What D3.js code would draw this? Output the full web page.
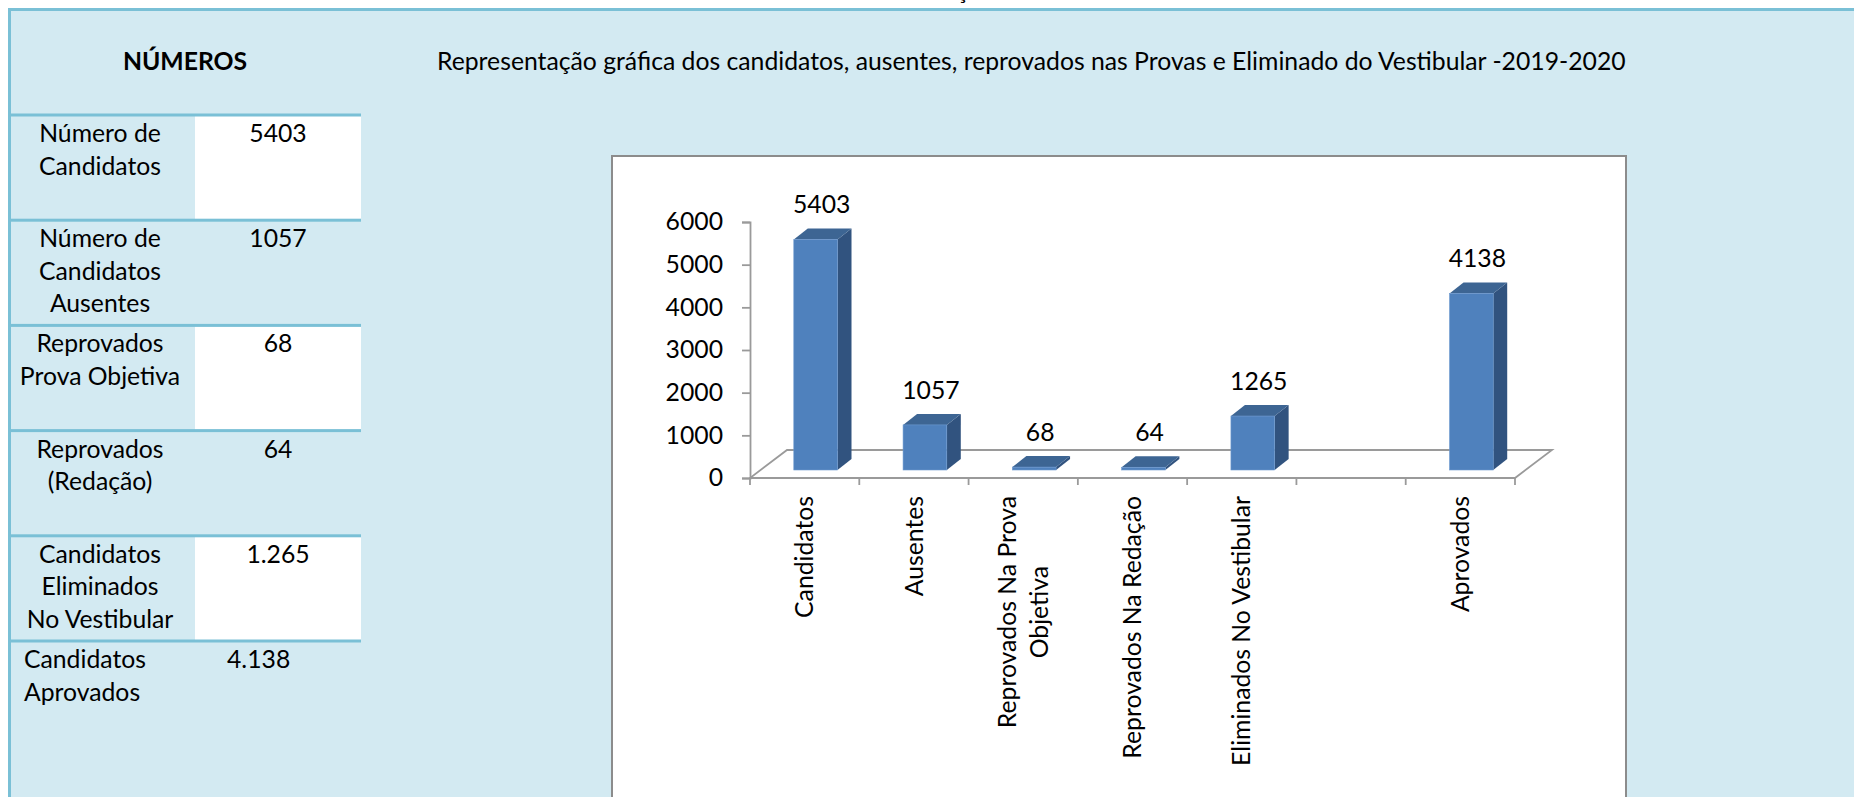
<!DOCTYPE html>
<html>
<head>
<meta charset="utf-8">
<script src="https://cdn.jsdelivr.net/npm/d3@7"></script>
<style>
  html, body { margin: 0; padding: 0; background: #fff; overflow: hidden; }
  svg { display: block; font-family: Lato, "Open Sans", sans-serif; }
</style>
</head>
<body>
<svg id="page" width="1854" height="797"></svg>
<script>
// ---- data ----
const tableHeader = "NÚMEROS";
const tableLabels = [
    ["Número de", "Candidatos"],
    ["Número de", "Candidatos", "Ausentes"],
    ["Reprovados", "Prova Objetiva"],
    ["Reprovados", "(Redação)"],
    ["Candidatos", "Eliminados", "No Vestibular"],
    ["Candidatos", "Aprovados"]
];
const tableValues = ["5403", "1057", "68", "64", "1.265", "4.138"];
const tableWhite = [true, false, true, false, true, false];

const chartTitle = "Representação gráfica dos candidatos, ausentes, reprovados nas Provas e Eliminado do Vestibular -2019-2020";
const categories = [
    ["Candidatos"],
    ["Ausentes"],
    ["Reprovados Na Prova", "Objetiva"],
    ["Reprovados Na Redação"],
    ["Eliminados No Vestibular"],
    [],
    ["Aprovados"]
];
const values = [5403, 1057, 68, 64, 1265, null, 4138];
const yTicks = [0, 1000, 2000, 3000, 4000, 5000, 6000];

// ---- colours ----
const paleBlue = "#D3EAF2";
const rule = "#7AC0D6";
const axisGrey = "#9A9A9A";
const barFront = "#4F81BD";
const barSide = "#31537F";
const barTop = "#3D6593";

const svg = d3.select("#page");

// fit the font so the long title has the width it has in the picture
const probe = svg.append("text").attr("font-size", 26).text(chartTitle);
const fs = 26 * 1189 / probe.node().getComputedTextLength();
probe.remove();

// page background and the outer cell frame
svg.append("rect").attr("width", 1854).attr("height", 797).attr("fill", "#fff");
svg.append("rect").attr("x", 8).attr("y", 8).attr("width", 1846).attr("height", 789).attr("fill", paleBlue);
svg.append("rect").attr("x", 8).attr("y", 8).attr("width", 1846).attr("height", 3).attr("fill", rule);
svg.append("rect").attr("x", 8).attr("y", 8).attr("width", 3).attr("height", 789).attr("fill", rule);

// text cut by the top of the page (only its cedilla shows, as in the picture)
svg.append("text").attr("x", 956).attr("y", -1).attr("font-size", fs).text("ção");

// ---- left table ----
const rowH = 105.2;
const rowTop = i => 115 + i * rowH;

svg.append("g").selectAll("rect")
    .data(tableWhite.map((w, i) => ({ w, i })).filter(d => d.w))
    .join("rect")
    .attr("x", 195).attr("y", d => rowTop(d.i))
    .attr("width", 166).attr("height", rowH)
    .attr("fill", "#fff");

svg.append("g").selectAll("rect")
    .data(tableLabels)
    .join("rect")
    .attr("x", 11).attr("y", (d, i) => rowTop(i) - 1.5)
    .attr("width", 350).attr("height", 3)
    .attr("fill", rule);

svg.append("text")
    .attr("x", 185).attr("y", 70)
    .attr("text-anchor", "middle")
    .attr("font-size", fs).attr("font-weight", "bold")
    .text(tableHeader);

const rows = svg.append("g").selectAll("g")
    .data(tableLabels)
    .join("g");

rows.each(function (lines, i) {
    const g = d3.select(this);
    const last = i === tableLabels.length - 1;
    g.selectAll("text.lbl")
        .data(lines)
        .join("text")
        .attr("class", "lbl")
        .attr("x", last ? 24 : 100)
        .attr("y", (d, j) => rowTop(i) + 27 + j * 32.5)
        .attr("text-anchor", last ? "start" : "middle")
        .attr("font-size", fs)
        .text(d => d);
    g.append("text")
        .attr("x", last ? 227 : 278)
        .attr("y", rowTop(i) + 27)
        .attr("text-anchor", last ? "start" : "middle")
        .attr("font-size", fs)
        .text(tableValues[i]);
});

svg.append("text")
    .attr("x", 437).attr("y", 70)
    .attr("font-size", fs)
    .text(chartTitle);

// ---- chart ----
svg.append("rect")
    .attr("x", 612).attr("y", 156)
    .attr("width", 1014).attr("height", 700)
    .attr("fill", "#fff")
    .attr("stroke", "#8C8C8C").attr("stroke-width", 2);

const x = d3.scaleBand().domain(d3.range(categories.length)).range([750, 1515]);
const y = d3.scaleLinear().domain([0, 6000]).range([478, 222]);

const floorD = [37, -28];   // depth of the floor
const barOff = [11, -8];    // where the bars start inside the depth
const barD = [14, -11];     // depth of a bar
const barW = x.bandwidth() * 0.4;

const chart = svg.append("g");

// floor outline
const fx0 = x.range()[0], fx1 = x.range()[1], fy = y(0);
chart.append("path")
    .attr("d", `M${fx0},${fy}L${fx1},${fy}L${fx1 + floorD[0]},${fy + floorD[1]}L${fx0 + floorD[0]},${fy + floorD[1]}Z`)
    .attr("fill", "none")
    .attr("stroke", axisGrey).attr("stroke-width", 1.8);

// vertical axis
const yAxis = chart.append("g")
    .attr("transform", `translate(${fx0},0)`)
    .call(d3.axisLeft(y).tickValues(yTicks).tickSize(8).tickPadding(19).tickFormat(d3.format("d")));
yAxis.select(".domain").attr("stroke", axisGrey).attr("stroke-width", 1.8);
yAxis.selectAll(".tick line").attr("stroke", axisGrey).attr("stroke-width", 1.8);
yAxis.selectAll(".tick text")
    .attr("font-family", "Lato, 'Open Sans', sans-serif")
    .attr("font-size", fs).attr("fill", "#000");

// category ticks below the front edge
chart.append("g").selectAll("line")
    .data(d3.range(categories.length + 1))
    .join("line")
    .attr("x1", i => fx0 + i * x.step()).attr("x2", i => fx0 + i * x.step())
    .attr("y1", fy).attr("y2", fy + 7)
    .attr("stroke", axisGrey).attr("stroke-width", 1.8);

// bars
const bars = values.map((v, i) => ({ v, i })).filter(d => d.v !== null).map(d => {
    const xf = x(d.i) + (x.bandwidth() - barW) / 2 + barOff[0];
    return { ...d, xf, xr: xf + barW, yt: y(d.v) + barOff[1], yb: y(0) + barOff[1] };
});

const barG = chart.append("g").selectAll("g").data(bars).join("g");
barG.append("path")
    .attr("d", d => `M${d.xr},${d.yt}L${d.xr + barD[0]},${d.yt + barD[1]}L${d.xr + barD[0]},${d.yb + barD[1]}L${d.xr},${d.yb}Z`)
    .attr("fill", barSide);
barG.append("path")
    .attr("d", d => `M${d.xf},${d.yt}L${d.xr},${d.yt}L${d.xr + barD[0]},${d.yt + barD[1]}L${d.xf + barD[0]},${d.yt + barD[1]}Z`)
    .attr("fill", barTop);
barG.append("rect")
    .attr("x", d => d.xf).attr("y", d => d.yt)
    .attr("width", barW).attr("height", d => Math.max(d.yb - d.yt, 1))
    .attr("fill", barFront)
    .attr("stroke", "#6E9AD0").attr("stroke-width", 0.6);

// data labels
chart.append("g").selectAll("text")
    .data(bars)
    .join("text")
    .attr("x", d => x(d.i) + x.bandwidth() / 2 + 17)
    .attr("y", d => d.yt - 35)
    .attr("dy", "0.35em")
    .attr("text-anchor", "middle")
    .attr("font-size", fs)
    .text(d => d.v);

// rotated category labels
const catG = chart.append("g").selectAll("g")
    .data(categories.map((lines, i) => ({ lines, i })))
    .join("g");

catG.each(function (d) {
    const g = d3.select(this);
    const n = d.lines.length;
    const texts = g.selectAll("text")
        .data(d.lines)
        .join("text")
        .attr("text-anchor", "middle")
        .attr("dy", "0.35em")
        .attr("font-size", fs)
        .text(t => t);
    let maxLen = 0;
    texts.each(function () { maxLen = Math.max(maxLen, this.getComputedTextLength()); });
    const cy = 496 + maxLen / 2;
    texts.attr("transform", (t, j) =>
        `translate(${x(d.i) + x.bandwidth() / 2 + (j - (n - 1) / 2) * 32},${cy}) rotate(-90)`);
});
</script>
</body>
</html>
